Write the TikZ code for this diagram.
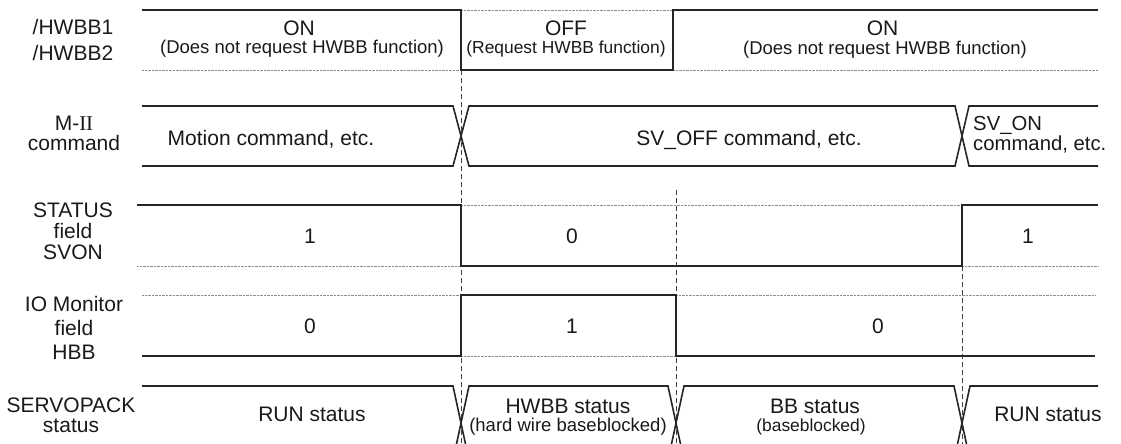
\documentclass[tikz,border=0pt]{standalone}
\usepackage{fontspec}
\setmainfont{Liberation Sans}
\newfontfamily\romnum{Liberation Serif}
\newcommand{\cstack}[2]{\vtop{\baselineskip=#1pt\lineskiplimit=-100pt\halign{\hfil##\hfil\cr#2\crcr}}}
\newcommand{\lstack}[2]{\vtop{\baselineskip=#1pt\lineskiplimit=-100pt\halign{##\hfil\cr#2\crcr}}}
\begin{document}
\begin{tikzpicture}[x=1pt,y=-1pt,
  sig/.style={line width=1.6pt, black!85, line join=miter},
  dotl/.style={line width=0.6pt, black!45, dash pattern=on 0.8pt off 0.6pt},
  vdash/.style={line width=0.9pt, black!75, dash pattern=on 5pt off 3pt},
  txt/.style={inner sep=0pt, anchor=base, text=black!90, font=\fontsize{21}{25}\selectfont},
  sub/.style={txt, font=\fontsize{18.5}{22}\selectfont},
  subs/.style={txt, font=\fontsize{17.4}{21}\selectfont},
  lbl/.style={txt}]
\useasboundingbox (0,0) rectangle (1121,444);

% ---- dashed time markers
\coordinate (t1a) at (461,70);  \coordinate (t1b) at (461,444);
\coordinate (t2a) at (676,190); \coordinate (t2b) at (676,444);
\coordinate (t3a) at (962,266); \coordinate (t3b) at (962,444);
\draw[vdash] (t1a) -- (t1b);
\draw[vdash] (t2a) -- (t2b);
\draw[vdash] (t3a) -- (t3b);

% ---- row 1: /HWBB
\draw[dotl] (142,70) -- (461,70);
\draw[dotl] (461,10) -- (673,10);
\draw[dotl] (673,70) -- (1098,70);
\draw[sig] (142,10) -- (461,10) -- (461,70) -- (673,70) -- (673,10) -- (1098,10);

% ---- row 2: M-II command
\draw[sig] (142,106) -- (453,106) -- (469,166) -- (955,166) -- (969,106) -- (1098,106);
\draw[sig] (142,166) -- (453,166) -- (469,106) -- (955,106) -- (969,166) -- (1098,166);

% ---- row 3: STATUS SVON
\draw[dotl] (461,205) -- (962,205);
\draw[dotl] (137,266) -- (461,266);
\draw[dotl] (962,266) -- (1098,266);
\draw[sig] (137,205) -- (461,205) -- (461,266) -- (962,266) -- (962,205) -- (1098,205);

% ---- row 4: IO Monitor HBB
\draw[dotl] (142,295) -- (461,295);
\draw[dotl] (461,356) -- (676,356);
\draw[dotl] (676,295) -- (1095,295);
\draw[sig] (142,356) -- (461,356) -- (461,295) -- (676,295) -- (676,356) -- (1095,356);

% ---- row 5: SERVOPACK status
\draw[sig] (142,386) -- (453,386) -- (465.5,444);
\draw[sig] (456.5,444) -- (469,386) -- (668,386) -- (680.5,444);
\draw[sig] (671.5,444) -- (684,386) -- (954,386) -- (966.5,444);
\draw[sig] (957.5,444) -- (970,386) -- (1098,386);

% ---- left labels
\node[lbl] (lhw) at (73,35) {\cstack{25}{/HWBB1\cr /HWBB2}};
\node[lbl] (lm2) at (74,130) {\cstack{20}{M-{\romnum II}\cr command}};
\node[lbl] (lst) at (73,217) {\cstack{21}{STATUS\cr field\cr SVON}};
\node[lbl] (lio) at (74,311) {\cstack{24}{IO Monitor\cr field\cr HBB}};
\node[lbl] (lsp) at (71,412) {\cstack{20}{SERVOPACK\cr status}};

% ---- row 1 texts
\node[txt] (on1) at (299,35.5) {ON};
\node[sub] (on1s) at (302,54) {(Does not request HWBB function)};
\node[txt] (off) at (566,35.5) {OFF};
\node[subs] (offs) at (566,53.5) {(Request HWBB function)};
\node[txt] (on2) at (882.5,35.5) {ON};
\node[sub] (on2s) at (885,54.5) {(Does not request HWBB function)};

% ---- row 2 texts
\node[txt] (mot) at (271,145) {Motion command, etc.};
\node[txt] (svoff) at (749,145) {SV\_OFF command, etc.};
\node[txt, anchor=base west, font=\fontsize{20.3}{24}\selectfont] (svon) at (973,130) {\lstack{20}{SV\_ON\cr command, etc.}};

% ---- row 3 texts
\node[txt] (s1) at (310,243) {1};
\node[txt] (s0) at (572,243) {0};
\node[txt] (s1b) at (1028,243) {1};

% ---- row 4 texts
\node[txt] (h0) at (310,333.5) {0};
\node[txt] (h1) at (572,333.5) {1};
\node[txt] (h0b) at (878,333.5) {0};

% ---- row 5 texts
\node[txt] (run1) at (312,421.5) {RUN status};
\node[txt] (hwbb) at (568,413) {HWBB status};
\node[sub] (hwbbs) at (568,431.5) {(hard wire baseblocked)};
\node[txt] (bb) at (815,413) {BB status};
\node[subs] (bbs) at (811,431.5) {(baseblocked)};
\node[txt] (run2) at (1048,421.5) {RUN status};
\end{tikzpicture}
\end{document}
